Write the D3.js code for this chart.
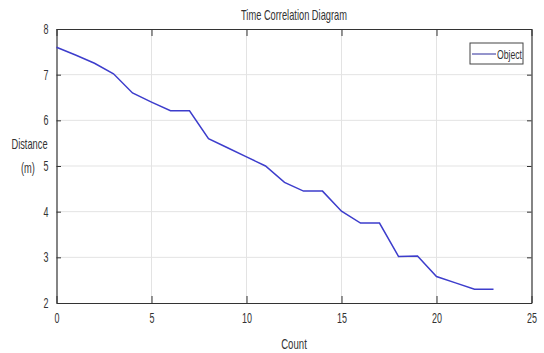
<!DOCTYPE html>
<html>
<head>
<meta charset="utf-8">
<script src="https://cdn.jsdelivr.net/npm/d3@7/dist/d3.min.js"></script>
<style>
  body { margin: 0; background: #fff; }
  svg text { font-family: "Liberation Sans", Arial, sans-serif; fill: #333; }
</style>
</head>
<body>
<svg id="chart" width="544" height="353"></svg>
<script>
// data
const counts    = [0, 1, 2, 3, 4, 5, 6, 7, 8, 9, 10, 11, 12, 13, 14, 15, 16, 17, 18, 19, 20, 21, 22, 23];
const distances = [7.6, 7.43, 7.25, 7.02, 6.6, 6.4, 6.21, 6.21, 5.6, 5.4, 5.2, 5.0, 4.64, 4.45, 4.45, 4.01, 3.75, 3.75, 3.02, 3.03, 2.58, 2.44, 2.3, 2.3];
const xTicks = [0, 5, 10, 15, 20, 25];
const yTicks = [2, 3, 4, 5, 6, 7, 8];
const seriesName = 'Object';

const W = 544, H = 353;
const m = { top: 29, right: 12.5, bottom: 50, left: 56.5 };
const SQUEEZE = 0.64; // the reference text is narrow

const svg = d3.select('#chart');

const x = d3.scaleLinear().domain([0, 25]).range([m.left, W - m.right]);
const y = d3.scaleLinear().domain([2, 8]).range([H - m.bottom, m.top]);

// squeeze text horizontally
function narrow(sel, f) {
  sel.each(function () {
    const len = this.getComputedTextLength();
    d3.select(this).attr('textLength', len * (f || SQUEEZE)).attr('lengthAdjust', 'spacingAndGlyphs');
  });
}

// ── grid ──
const grid = svg.append('g').attr('stroke', '#e3e3e3').attr('stroke-width', 1);
grid.selectAll('.gx').data(xTicks.slice(1, -1)).join('line')
  .attr('x1', d => x(d)).attr('x2', d => x(d))
  .attr('y1', y(2)).attr('y2', y(8));
grid.selectAll('.gy').data(yTicks.slice(1, -1)).join('line')
  .attr('x1', x(0)).attr('x2', x(25))
  .attr('y1', d => y(d)).attr('y2', d => y(d));

// ── axes (ticks inward, box on) ──
const axColor = '#333';
const xAxis = svg.append('g').attr('transform', `translate(0,${y(2)})`)
  .call(d3.axisBottom(x).tickValues(xTicks).tickFormat(d3.format('d'))
    .tickSizeInner(-7).tickSizeOuter(0).tickPadding(16));
const xTop = svg.append('g').attr('transform', `translate(0,${y(8)})`)
  .call(d3.axisTop(x).tickValues(xTicks).tickSizeInner(-7).tickSizeOuter(0).tickFormat(''));
const yAxis = svg.append('g').attr('transform', `translate(${x(0)},0)`)
  .call(d3.axisLeft(y).tickValues(yTicks).tickFormat(d3.format('d'))
    .tickSizeInner(-4.5).tickSizeOuter(0).tickPadding(8));
const yRight = svg.append('g').attr('transform', `translate(${x(25)},0)`)
  .call(d3.axisRight(y).tickValues(yTicks).tickSizeInner(-4.5).tickSizeOuter(0).tickFormat(''));

[xAxis, xTop, yAxis, yRight].forEach(g => {
  g.select('.domain').attr('stroke', axColor).attr('stroke-width', 1.2);
  g.selectAll('.tick line').attr('stroke', axColor);
  g.selectAll('.tick text').attr('fill', '#333').attr('font-size', 14)
    .attr('font-family', '"Liberation Sans", Arial, sans-serif');
});
xAxis.selectAll('.tick text').attr('dy', '0.3em');
narrow(xAxis.selectAll('.tick text'));
narrow(yAxis.selectAll('.tick text'));

// ── series ──
const pts = counts.map((c, i) => [c, distances[i]]);
svg.append('path').datum(pts)
  .attr('fill', 'none')
  .attr('stroke', '#3d3dcc')
  .attr('stroke-width', 1.5)
  .attr('d', d3.line().x(d => x(d[0])).y(d => y(d[1])));

// ── title and labels ──
svg.append('text').attr('x', (x(0) + x(25)) / 2).attr('y', 20)
  .attr('text-anchor', 'middle').attr('font-size', 14.5).text('Time Correlation Diagram')
  .call(narrow);
svg.append('text').attr('x', (x(0) + x(25)) / 2).attr('y', 349)
  .attr('text-anchor', 'middle').attr('font-size', 15).text('Count')
  .call(narrow);
svg.append('text').attr('x', 29.5).attr('y', 149)
  .attr('text-anchor', 'middle').attr('font-size', 14.5).text('Distance')
  .call(narrow);
svg.append('text').attr('x', 28).attr('y', 173)
  .attr('text-anchor', 'middle').attr('font-size', 14.5).text('(m)')
  .call(narrow);

// ── legend ──
const lg = svg.append('g').attr('transform', 'translate(470,43)');
lg.append('rect').attr('width', 53).attr('height', 21)
  .attr('fill', '#fff').attr('stroke', '#444').attr('stroke-width', 1);
lg.append('line').attr('x1', 2).attr('x2', 26).attr('y1', 11).attr('y2', 11)
  .attr('stroke', '#2a2a99').attr('stroke-width', 1);
lg.append('text').attr('x', 27).attr('y', 15.5).attr('font-size', 12).text(seriesName)
  .call(narrow, 0.72);
</script>
</body>
</html>
